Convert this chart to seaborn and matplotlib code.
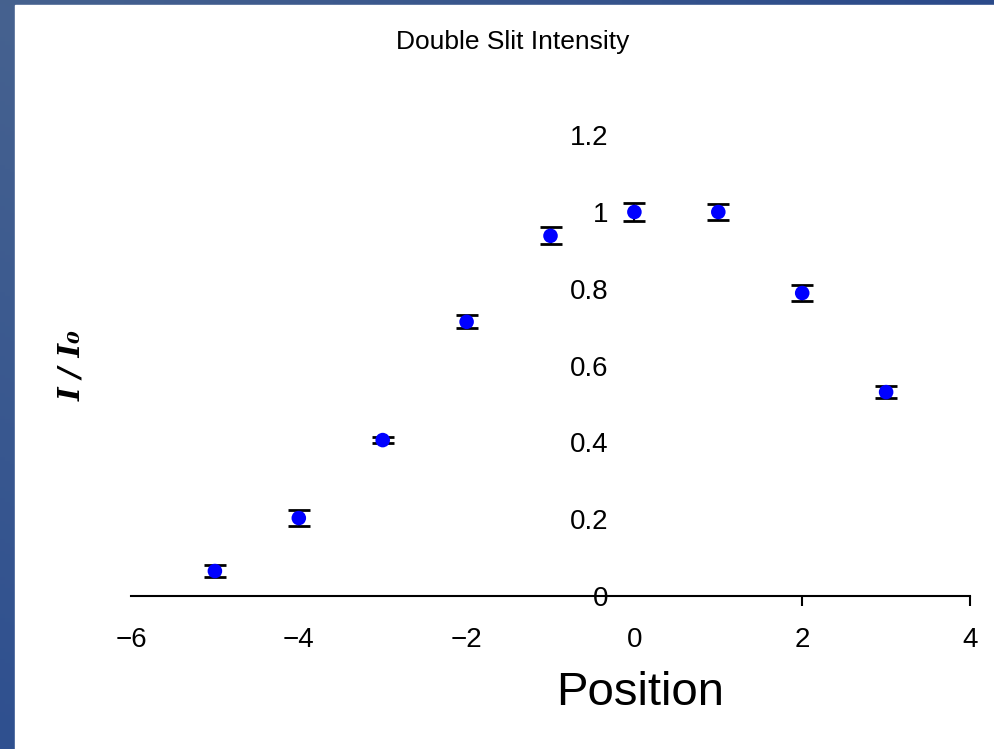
import numpy as np
import pandas as pd
import matplotlib
matplotlib.use("Agg")
import matplotlib.pyplot as plt
import seaborn as sns

# ==============================================
# data
position = [-5, -4, -3, -2, -1, 0, 1, 2, 3]
intensity = [0.065, 0.203, 0.406, 0.714, 0.938, 1.0, 1.0, 0.789, 0.531]
error = [0.016, 0.02, 0.008, 0.017, 0.022, 0.023, 0.021, 0.02, 0.016]
xticks = [-6, -4, -2, 0, 2, 4]
yticks = [0, 0.2, 0.4, 0.6, 0.8, 1.0, 1.2]
ytick_labels = ['0', '0.2', '0.4', '0.6', '0.8', '1', '1.2']

df = pd.DataFrame({'position': position, 'intensity': intensity, 'error': error})

sns.set_style('white')
plt.rcParams['font.family'] = ['Liberation Sans', 'DejaVu Sans']
plt.rcParams['text.color'] = 'black'
plt.rcParams['xtick.color'] = 'black'
plt.rcParams['ytick.color'] = 'black'

fig = plt.figure(figsize=(9.95, 7.49), dpi=100)

# ==============================================
# blue slide background with white panel
bg = fig.add_axes([0, 0, 1, 1], zorder=-10)
gx, gy = np.meshgrid(np.linspace(0, 1, 200), np.linspace(0, 1, 200))
grad = 0.5 * gx + 0.5 * gy
bg.imshow(grad, cmap=matplotlib.colors.LinearSegmentedColormap.from_list(
    'slide', ['#2f5090', '#46628f', '#2b4a8a']), extent=[0, 1, 0, 1],
    aspect='auto', origin='lower')
bg.add_patch(plt.Rectangle((15 / 995, 0), 1, 744 / 749, color='white'))
bg.set_xlim(0, 1)
bg.set_ylim(0, 1)
bg.axis('off')

# ==============================================
ax = fig.add_axes([131 / 995, (749 - 596) / 749, 839 / 995, 1.25 * 384 / 749])
ax.patch.set_alpha(0)

ax.errorbar(df['position'], df['intensity'], yerr=df['error'], fmt='none',
            ecolor='black', elinewidth=1.5, capsize=8, capthick=2, zorder=2)
sns.scatterplot(data=df, x='position', y='intensity', ax=ax, color='#0000ff',
                s=110, edgecolor='none', zorder=3)

ax.set_xlim(-6, 4)
ax.set_ylim(0, 1.25)

for side in ['top', 'right', 'left']:
    ax.spines[side].set_visible(False)
ax.spines['bottom'].set_position(('data', 0))
ax.spines['bottom'].set_color('black')
ax.spines['bottom'].set_linewidth(1.5)
ax.spines['left'].set_position(('data', 0))

ax.set_xticks(xticks)
ax.set_xticklabels([str(t).replace('-', '\u2212') for t in xticks])
ax.tick_params(axis='x', direction='out', length=7, width=1.5, pad=15,
               labelsize=20, colors='black')
for t, loc in zip(ax.xaxis.get_major_ticks(), xticks):
    t.tick1line.set_visible(loc > 0)

ax.set_yticks(yticks)
ax.set_yticklabels(ytick_labels)
ax.tick_params(axis='y', length=0, pad=19, labelsize=20, colors='black')

ax.set_xlabel('')
ax.set_ylabel('')

fig.text(513 / 995, 1 - 42 / 749, 'Double Slit Intensity', ha='center',
         va='center', fontsize=19, color='black')
fig.text(640 / 995, 1 - 693 / 749, 'Position', ha='center', va='center',
         fontsize=34, color='black')
fig.text(72 / 995, 1 - 366 / 749, 'I / I\u2080', ha='center', va='center',
         rotation=90, fontsize=21, fontweight='bold', fontstyle='italic',
         family='DejaVu Serif', color='black')

fig.savefig('out.png', dpi=100)
